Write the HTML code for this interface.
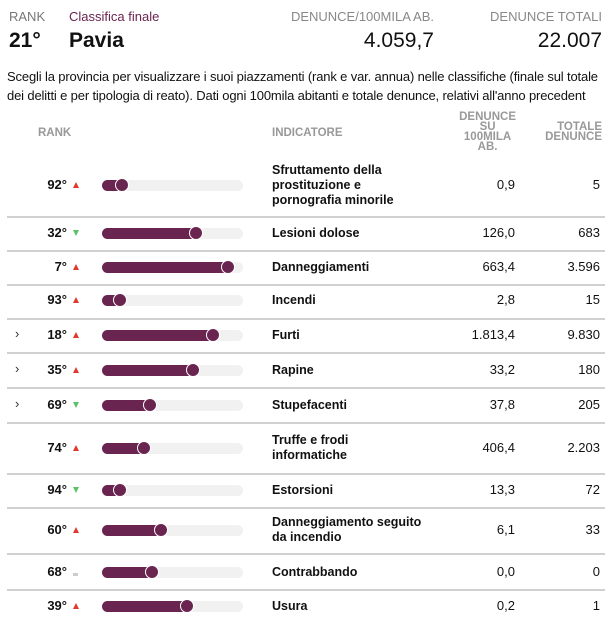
<!DOCTYPE html><html><head><meta charset="utf-8"><style>
body{margin:0;width:612px;height:640px;background:#fff;font-family:"Liberation Sans",sans-serif;position:relative;overflow:hidden;color:#111}
.a{position:absolute;white-space:nowrap}
.sep{position:absolute;left:7px;width:598px;height:2px;background:#d0d0d0}
.rk{position:absolute;right:545px;font-weight:bold;font-size:13px}
.tr{position:absolute;left:73px;width:0;height:0;border-left:3px solid transparent;border-right:3px solid transparent}
.up{border-bottom:6px solid #e03a2f}
.dn{border-top:6px solid #5cc26a}
.track{position:absolute;left:102px;width:141px;height:11px;border-radius:6px;background:#f1f1f1}
.fill{position:absolute;left:102px;height:11px;border-radius:6px 0 0 6px;background:#6a2450}
.dot{position:absolute;width:12px;height:12px;border-radius:50%;background:#6a2450;border:1.5px solid #fff}
.ind{position:absolute;left:272px;font-weight:bold;font-size:12.5px;line-height:15px}
.v1{position:absolute;right:97px;font-size:13px}
.v2{position:absolute;right:12px;font-size:13px}
.ch{position:absolute;left:15px;font-size:13px;color:#333}
</style></head><body>
<div class="a" style="left:9px;top:9px;font-size:13px;color:#777">RANK</div>
<div class="a" style="left:69px;top:9px;font-size:13px;color:#6a2450">Classifica finale</div>
<div class="a" style="right:178px;top:9px;font-size:13px;color:#888">DENUNCE/100MILA AB.</div>
<div class="a" style="right:10px;top:9px;font-size:13px;color:#888">DENUNCE TOTALI</div>
<div class="a" style="left:9px;top:29px;font-size:21px;font-weight:bold">21°</div>
<div class="a" style="left:69px;top:29px;font-size:21px;font-weight:bold">Pavia</div>
<div class="a" style="right:178px;top:29px;font-size:21px">4.059,7</div>
<div class="a" style="right:10px;top:29px;font-size:21px">22.007</div>
<div class="a" style="left:7px;top:67px;font-size:13px;line-height:19px;letter-spacing:-0.15px">Scegli la provincia per visualizzare i suoi piazzamenti (rank e var. annua) nelle classifiche (finale sul totale<br>dei delitti e per tipologia di reato). Dati ogni 100mila abitanti e totale denunce, relativi all'anno precedent</div>
<div class="a" style="left:38px;top:127px;font-size:11.5px;font-weight:bold;color:#999">RANK</div>
<div class="a" style="left:272px;top:127px;font-size:11.5px;font-weight:bold;color:#999">INDICATORE</div>
<div class="a" style="right:96px;top:112px;font-size:11.5px;font-weight:bold;color:#999;text-align:center;line-height:10px">DENUNCE<br>SU<br>100MILA<br>AB.</div>
<div class="a" style="right:10px;top:122px;font-size:11.5px;font-weight:bold;color:#999;text-align:right;line-height:10px">TOTALE<br>DENUNCE</div>
<div id="rows"></div>
<script>
var R=[[185,"92°","up",122,"Sfruttamento della<br>prostituzione e<br>pornografia minorile","0,9","5",0],
[233,"32°","dn",196,"Lesioni dolose","126,0","683",0],
[267,"7°","up",228,"Danneggiamenti","663,4","3.596",0],
[300,"93°","up",120,"Incendi","2,8","15",0],
[335,"18°","up",213,"Furti","1.813,4","9.830",1],
[370,"35°","up",193,"Rapine","33,2","180",1],
[405,"69°","dn",150,"Stupefacenti","37,8","205",1],
[448,"74°","up",144,"Truffe e frodi<br>informatiche","406,4","2.203",0],
[490,"94°","dn",120,"Estorsioni","13,3","72",0],
[530,"60°","up",161,"Danneggiamento seguito<br>da incendio","6,1","33",0],
[572,"68°","eq",152,"Contrabbando","0,0","0",0],
[606,"39°","up",187,"Usura","0,2","1",0]];
var S=[216,250,284,318,352,387,422,473,507,553,589],h="";
S.forEach(function(y){h+='<div class="sep" style="top:'+y+'px"></div>'});
R.forEach(function(r){var c=r[0],n=(r[4].match(/<br>/g)||[]).length+1;
h+='<div class="rk" style="top:'+(c-8)+'px">'+r[1]+'</div>';
if(r[2]=="eq")h+='<div class="a" style="left:73px;top:'+(c+1)+'px;width:5px;height:3px;background:#ccc"></div>';
else h+='<div class="tr '+r[2]+'" style="top:'+(c-3)+'px"></div>';
h+='<div class="track" style="top:'+(c-5)+'px"></div><div class="fill" style="top:'+(c-5)+'px;width:'+(r[3]-102)+'px"></div>';
h+='<div class="dot" style="left:'+(r[3]-7.5)+'px;top:'+(c-7.5)+'px"></div>';
h+='<div class="ind" style="top:'+(c-n*7.5)+'px">'+r[4]+'</div>';
h+='<div class="v1" style="top:'+(c-8)+'px">'+r[5]+'</div><div class="v2" style="top:'+(c-8)+'px">'+r[6]+'</div>';
if(r[7])h+='<div class="ch" style="top:'+(c-9)+'px">›</div>';});
document.getElementById("rows").innerHTML=h;
</script>
</body></html>
